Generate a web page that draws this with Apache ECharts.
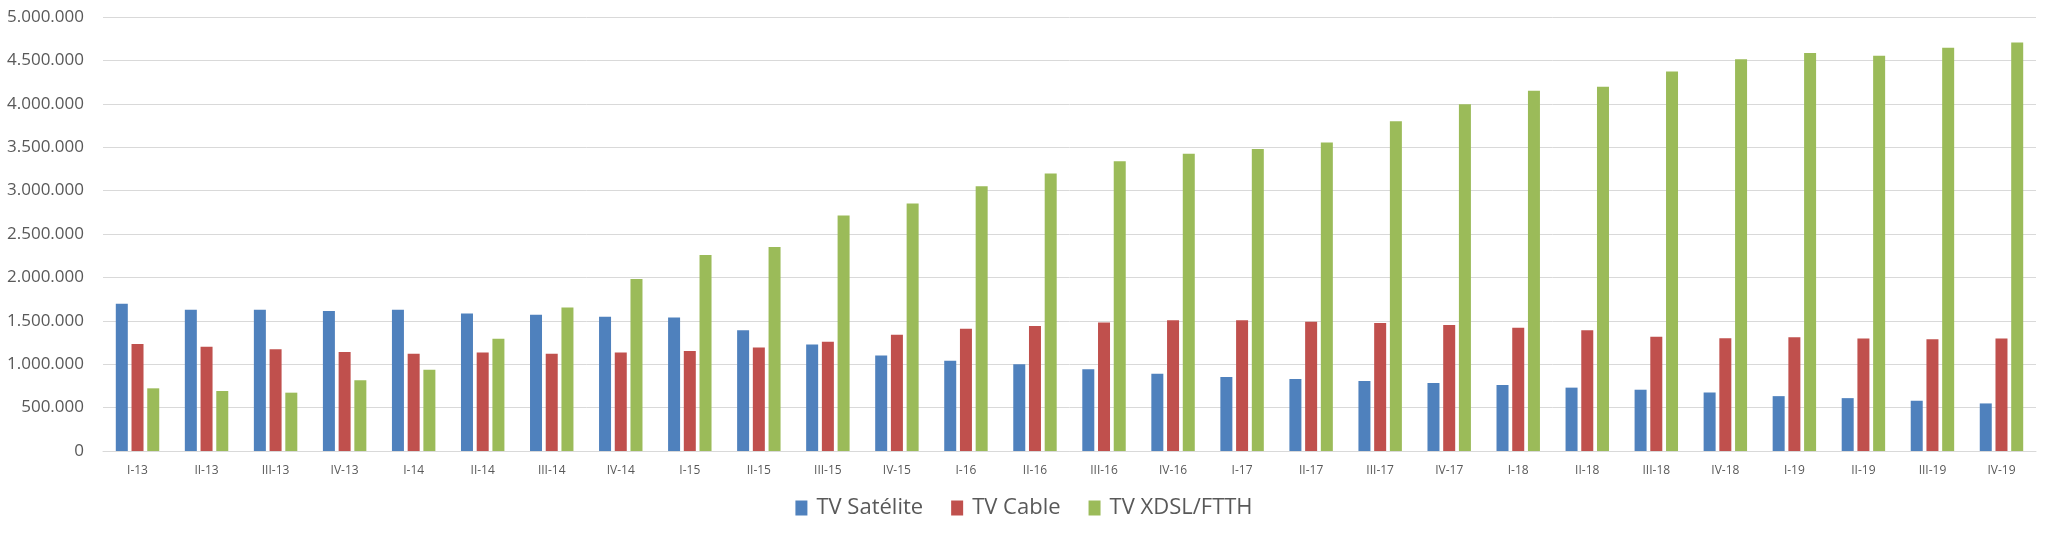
<!DOCTYPE html>
<html>
<head>
<meta charset="utf-8">
<script src="https://cdn.jsdelivr.net/npm/echarts@6/dist/echarts.min.js"></script>
<style>
  html, body { margin: 0; padding: 0; background: #ffffff; }
  #chart { width: 2048px; height: 537px; }
</style>
</head>
<body>
<div id="chart"></div>
<script>
const categories = ["I-13","II-13","III-13","IV-13","I-14","II-14","III-14","IV-14","I-15","II-15","III-15","IV-15","I-16","II-16","III-16","IV-16","I-17","II-17","III-17","IV-17","I-18","II-18","III-18","IV-18","I-19","II-19","III-19","IV-19"];
const tvSatelite = [1695000,1628000,1628000,1613000,1626000,1584000,1569000,1546000,1538000,1392000,1227000,1101000,1040000,1000000,943000,891000,853000,829000,806000,783000,760000,730000,706000,674000,632000,609000,579000,548000];
const tvCable = [1233000,1202000,1171000,1141000,1120000,1135000,1120000,1135000,1151000,1193000,1258000,1339000,1408000,1441000,1480000,1505000,1505000,1490000,1475000,1452000,1421000,1390000,1316000,1299000,1310000,1295000,1287000,1295000];
const tvXdslFtth = [722000,691000,672000,814000,936000,1293000,1653000,1983000,2259000,2351000,2712000,2850000,3050000,3198000,3338000,3424000,3478000,3555000,3798000,3995000,4149000,4195000,4372000,4514000,4584000,4553000,4645000,4707000];
const seriesNames = ["TV Satélite", "TV Cable", "TV XDSL/FTTH"];

const fmt = v => String(v).replace(/\B(?=(\d{3})+(?!\d))/g, '.');
const FONT = "'Open Sans', 'Liberation Sans', sans-serif";

const chart = echarts.init(document.getElementById('chart'), null, { renderer: 'canvas' });
chart.setOption({
  animation: false,
  color: ['#4F81BD', '#C0504D', '#9BBB59'],
  grid: { left: 103, right: 12, top: 17, bottom: 86 },
  legend: {
    data: seriesNames,
    bottom: 13,
    left: 'center',
    itemWidth: 12,
    itemHeight: 15,
    itemGap: 28,
    icon: 'rect',
    textStyle: { fontFamily: FONT, fontSize: 22, color: '#595959', padding: [0, 0, 0, 4] }
  },
  xAxis: {
    type: 'category',
    data: categories,
    axisLine: { show: true, lineStyle: { color: '#d9d9d9', width: 1 } },
    axisTick: { show: false },
    axisLabel: { fontFamily: FONT, fontSize: 12, color: '#595959', margin: 14, interval: 0 }
  },
  yAxis: {
    type: 'value',
    min: 0,
    max: 5000000,
    interval: 500000,
    axisLine: { show: false },
    axisTick: { show: false },
    splitLine: { lineStyle: { color: '#d9d9d9', width: 1 } },
    axisLabel: { fontFamily: FONT, fontSize: 17, color: '#595959', margin: 19, formatter: fmt }
  },
  series: [
    { name: seriesNames[0], type: 'bar', data: tvSatelite, barWidth: 12, barGap: '31%' },
    { name: seriesNames[1], type: 'bar', data: tvCable, barWidth: 12, barGap: '31%' },
    { name: seriesNames[2], type: 'bar', data: tvXdslFtth, barWidth: 12, barGap: '31%' }
  ]
});
</script>
</body>
</html>
